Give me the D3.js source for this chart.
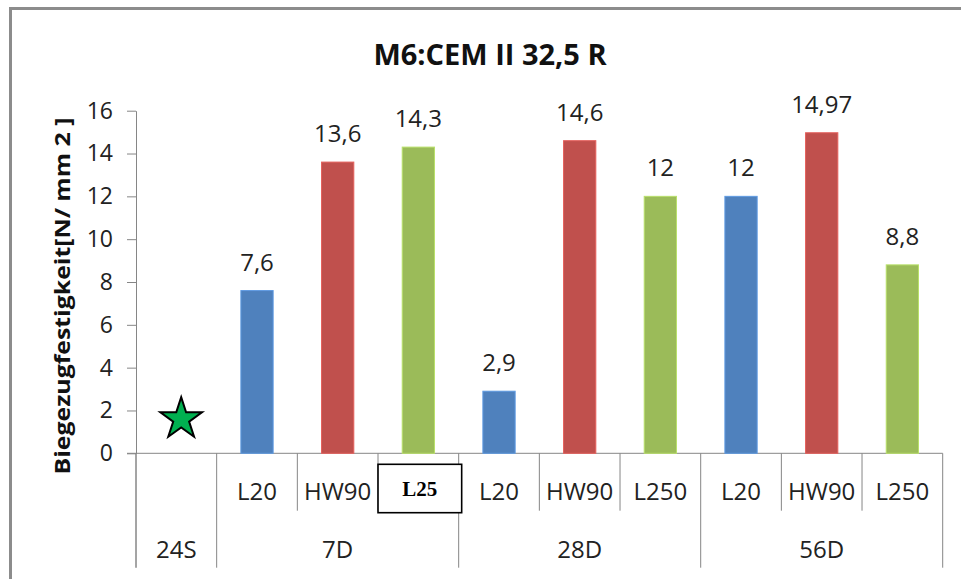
<!DOCTYPE html>
<html>
<head>
<meta charset="utf-8">
<script src="https://cdn.jsdelivr.net/npm/d3@7"></script>
<style>
  html, body { margin: 0; padding: 0; background: #fff; }
  svg { display: block; }
</style>
</head>
<body>
<svg id="chart" width="961" height="579"></svg>
<script>
// Flexural strength per curing age and sample type
const title = "M6:CEM II 32,5 R";
const yTitle = "Biegezugfestigkeit[N/ mm 2 ]";
const groups = ["24S", "7D", "28D", "56D"];
const groupOf = ["24S", "7D", "7D", "7D", "28D", "28D", "28D", "56D", "56D", "56D"];
const subLabels = ["", "L20", "HW90", "L25", "L20", "HW90", "L250", "L20", "HW90", "L250"];
const sampleType = ["", "L20", "HW90", "L250", "L20", "HW90", "L250", "L20", "HW90", "L250"];
const values = [null, 7.6, 13.6, 14.3, 2.9, 14.6, 12, 12, 14.97, 8.8];
const yTicks = [0, 2, 4, 6, 8, 10, 12, 14, 16];
const typeColors = { L20: "#4F81BD", HW90: "#C0504D", L250: "#9BBB59" };
const starValue = 1.6;       // marker drawn in the 24S slot
const boxedIndex = 3;        // sub-label shown in a framed text box

const svg = d3.select("#chart");
const fontSans = "'Open Sans', 'Noto Sans', sans-serif";
const axisColor = "#868686";

const plot = { left: 136, right: 942.7, top: 110.7, bottom: 453.3 };
const lvl1Bottom = 510.7, lvl2Bottom = 567.7;

const idx = d3.range(values.length);
const xCat = d3.scaleBand().domain(idx).range([plot.left, plot.right]).padding(0);
const xBar = d3.scaleBand().domain(idx).range([plot.left, plot.right])
  .paddingInner(0.6).paddingOuter(0.3);
const y = d3.scaleLinear().domain([0, 16]).range([plot.bottom, plot.top]);

// outer frame (top and left edges)
svg.append("path")
  .attr("d", `M10.5,579 L10.5,8.5 L961,8.5`)
  .attr("fill", "none").attr("stroke", "#8c8c8c").attr("stroke-width", 3);

// title
svg.append("text")
  .attr("x", 490).attr("y", 65)
  .attr("text-anchor", "middle")
  .attr("font-family", fontSans).attr("font-weight", 700)
  .attr("font-size", 29).attr("fill", "#111")
  .text(title);

// y axis
const yAxis = d3.axisLeft(y).tickValues(yTicks).tickSize(9).tickPadding(14).tickSizeOuter(0);
const gy = svg.append("g").attr("transform", `translate(${plot.left},0)`).call(yAxis);
gy.select(".domain").attr("stroke", axisColor);
gy.selectAll(".tick line").attr("stroke", axisColor);
gy.selectAll(".tick text")
  .attr("font-family", fontSans).attr("font-size", 23).attr("fill", "#222");

// y axis title
svg.append("text")
  .attr("transform", `translate(70,${(plot.top + plot.bottom) / 2 + 14}) rotate(-90)`)
  .attr("text-anchor", "middle")
  .attr("font-family", fontSans).attr("font-weight", 700)
  .attr("font-size", 22).attr("fill", "#111")
  .attr("textLength", 357).attr("lengthAdjust", "spacingAndGlyphs")
  .text(yTitle);

// x axis baseline
svg.append("line")
  .attr("x1", plot.left - 9).attr("x2", plot.right)
  .attr("y1", plot.bottom).attr("y2", plot.bottom)
  .attr("stroke", axisColor);

// category separators: full height at group edges, short inside groups
const boundaries = d3.range(values.length + 1);
svg.append("g").selectAll("line").data(boundaries).join("line")
  .attr("x1", i => i < values.length ? xCat(i) : plot.right)
  .attr("x2", i => i < values.length ? xCat(i) : plot.right)
  .attr("y1", plot.bottom)
  .attr("y2", i => (i === 0 || i === values.length || groupOf[i] !== groupOf[i - 1]) ? lvl2Bottom : lvl1Bottom)
  .attr("stroke", axisColor);
// left axis continues through both label rows
svg.append("line")
  .attr("x1", plot.left).attr("x2", plot.left)
  .attr("y1", plot.bottom).attr("y2", lvl2Bottom)
  .attr("stroke", axisColor);

// bars
const barData = idx.filter(i => values[i] != null);
svg.append("g").selectAll("rect").data(barData).join("rect")
  .attr("x", i => xBar(i))
  .attr("width", xBar.bandwidth())
  .attr("y", i => y(values[i]))
  .attr("height", i => y(0) - y(values[i]))
  .attr("fill", i => typeColors[sampleType[i]])
  .attr("stroke", i => d3.color(typeColors[sampleType[i]]).brighter(0.5))
  .attr("stroke-width", 1);

// value labels
svg.append("g").selectAll("text").data(barData).join("text")
  .attr("x", i => xBar(i) + xBar.bandwidth() / 2)
  .attr("y", i => y(values[i]) - 20)
  .attr("text-anchor", "middle")
  .attr("font-family", fontSans).attr("font-size", 24).attr("fill", "#222")
  .text(i => String(values[i]).replace(".", ","));

// sub-category labels
svg.append("g").selectAll("text").data(idx.filter(i => i !== boxedIndex && subLabels[i])).join("text")
  .attr("x", i => xCat(i) + xCat.bandwidth() / 2)
  .attr("y", 500)
  .attr("text-anchor", "middle")
  .attr("font-family", fontSans).attr("font-size", 24).attr("fill", "#222")
  .text(i => subLabels[i]);

// framed sub-label
const bx = xCat(boxedIndex), bw = xCat.bandwidth() + 3;
svg.append("rect")
  .attr("x", bx).attr("y", 464.3).attr("width", bw).attr("height", 48.4)
  .attr("fill", "#fff").attr("stroke", "#000").attr("stroke-width", 1.6);
svg.append("text")
  .attr("x", bx + bw / 2).attr("y", 496)
  .attr("text-anchor", "middle")
  .attr("font-family", "'Liberation Serif', 'Times New Roman', serif")
  .attr("font-weight", 700).attr("font-size", 21).attr("fill", "#000")
  .text(subLabels[boxedIndex]);

// group labels
svg.append("g").selectAll("text").data(groups).join("text")
  .attr("x", g => {
    const members = idx.filter(i => groupOf[i] === g);
    return (xCat(members[0]) + xCat(members[members.length - 1]) + xCat.bandwidth()) / 2;
  })
  .attr("y", 558)
  .attr("text-anchor", "middle")
  .attr("font-family", fontSans).attr("font-size", 24).attr("fill", "#222")
  .text(g => g);

// star marker in the 24S slot
const starR = 21.9;
svg.append("path")
  .attr("d", d3.symbol(d3.symbolStar, starR * starR / 0.8908130915292852)())
  .attr("transform", `translate(${xCat(0) + xCat.bandwidth() * 0.56},${y(starValue)})`)
  .attr("fill", "#00B050").attr("stroke", "#000").attr("stroke-width", 2);
</script>
</body>
</html>
